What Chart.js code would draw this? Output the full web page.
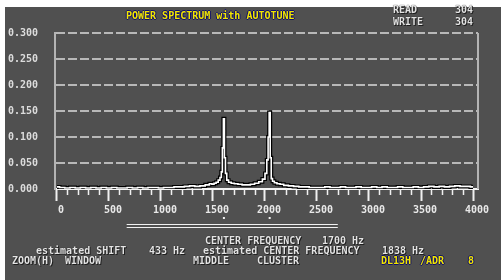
<!DOCTYPE html>
<html>
<head>
<meta charset="utf-8">
<script src="https://cdn.jsdelivr.net/npm/chart.js@4"></script>
<style>
  html, body { margin:0; padding:0; background:#ffffff; }
  body { width:501px; height:280px; position:relative; overflow:hidden; }
  #wrap { position:absolute; left:5px; top:7px; width:496px; height:273px; background:#505050; }
  canvas { position:absolute; left:0; top:0; }
  .t { position:absolute; font-family:"DejaVu Sans Mono", monospace; font-weight:bold; font-size:10px; line-height:10px; white-space:pre; color:#e4e4e4; text-shadow:0 0 1px #000, 1px 1px 0 #222; }
  .y { color:#f2e600; text-shadow:1px 0 0 #10106a, -1px 0 0 #10106a, 0 1px 0 #10106a, 0 -1px 0 #10106a; }
</style>
</head>
<body>
<div id="wrap"><canvas id="c" width="496" height="273"></canvas></div>
<div class="t y" style="left:126px;top:11px">POWER SPECTRUM with AUTOTUNE</div>
<div class="t" style="left:393px;top:5px">READ</div>
<div class="t" style="left:455px;top:5px">304</div>
<div class="t" style="left:393px;top:17px">WRITE</div>
<div class="t" style="left:455px;top:17px">304</div>
<div class="t" style="left:205px;top:236px">CENTER FREQUENCY</div>
<div class="t" style="left:322px;top:236px">1700 Hz</div>
<div class="t" style="left:36px;top:246px">estimated SHIFT</div>
<div class="t" style="left:149px;top:246px">433 Hz</div>
<div class="t" style="left:203px;top:246px">estimated CENTER FREQUENCY</div>
<div class="t" style="left:382px;top:246px">1838 Hz</div>
<div class="t" style="left:12px;top:256px">ZOOM(H)</div>
<div class="t" style="left:65px;top:256px">WINDOW</div>
<div class="t" style="left:193px;top:256px">MIDDLE</div>
<div class="t" style="left:257px;top:256px">CLUSTER</div>
<div class="t y" style="left:381px;top:256px">DL13H</div>
<div class="t y" style="left:420px;top:256px">/ADR</div>
<div class="t y" style="left:468px;top:256px">8</div>
<script>
// ---- data ----
const freqHz = [
  0,50,100,150,200,250,300,350,400,450,500,550,600,650,700,750,800,850,900,950,
  1000,1050,1100,1150,1200,1250,1300,1350,1400,1450,1480,1500,1520,1540,1560,1575,1585,1595,1605,1615,
  1625,1640,1660,1690,1720,1760,1800,1840,1880,1920,1960,1990,2010,2025,2035,2045,2055,2065,2080,2100,
  2130,2160,2200,2250,2300,2350,2400,2450,2500,2550,2600,2650,2700,2750,2800,2850,2900,2950,3000,3050,
  3100,3150,3200,3250,3300,3350,3400,3450,3500,3550,3600,3650,3700,3750,3800,3850,3900,3950,4000
];
const powerVal = [
  0.004,0.003,0.002,0.003,0.002,0.003,0.002,0.003,0.002,0.003,0.002,0.003,0.002,0.002,0.003,0.002,0.003,0.002,0.003,0.003,
  0.002,0.003,0.003,0.004,0.004,0.005,0.006,0.005,0.006,0.008,0.010,0.009,0.011,0.013,0.017,0.022,0.033,0.079,0.135,0.060,
  0.030,0.017,0.013,0.011,0.010,0.009,0.008,0.008,0.009,0.011,0.014,0.019,0.030,0.056,0.100,0.147,0.060,0.020,0.015,0.012,
  0.010,0.009,0.007,0.006,0.005,0.004,0.004,0.003,0.003,0.003,0.004,0.003,0.003,0.004,0.003,0.003,0.004,0.003,0.003,0.004,
  0.003,0.004,0.003,0.003,0.004,0.003,0.003,0.004,0.003,0.004,0.005,0.004,0.005,0.004,0.005,0.006,0.005,0.005,0.004
];
const yTicks = [0, 0.05, 0.10, 0.15, 0.20, 0.25, 0.30];
const xMajorTicks = [0,500,1000,1500,2000,2500,3000,3500,4000];
const peakMarkersHz = [1605, 2045];
const windowRangeHz = [670, 2700];

const points = freqHz.map((f, i) => ({ x: f, y: powerVal[i] }));

const overlay = {
  id: 'overlay',
  afterDatasetsDraw(chart) {
    const { ctx, scales: { x, y }, chartArea } = chart;
    ctx.save();
    // right frame
    ctx.strokeStyle = '#b4b4b4'; ctx.lineWidth = 2;
    ctx.beginPath(); ctx.moveTo(chartArea.right, chartArea.top); ctx.lineTo(chartArea.right, chartArea.bottom); ctx.stroke();
    // minor ticks
    const y0 = y.getPixelForValue(0);
    ctx.strokeStyle = '#f0f0f0'; ctx.lineWidth = 1.5;
    for (let f = 100; f < 4000; f += 100) {
      if (f % 500 === 0) continue;
      const px = Math.round(x.getPixelForValue(f)) + 0.5;
      ctx.beginPath(); ctx.moveTo(px, y0); ctx.lineTo(px, y0 + 6); ctx.stroke();
    }
    // window bar (double line)
    const xa = x.getPixelForValue(windowRangeHz[0]), xb = x.getPixelForValue(windowRangeHz[1]);
    ctx.strokeStyle = '#f0f0f0'; ctx.lineWidth = 1;
    [y0 + 35.5, y0 + 38.5].forEach(yy => { ctx.beginPath(); ctx.moveTo(xa, yy); ctx.lineTo(xb, yy); ctx.stroke(); });
    // peak markers
    ctx.fillStyle = '#f0f0f0';
    peakMarkersHz.forEach(f => { const px = x.getPixelForValue(f); ctx.fillRect(px - 1, y0 + 28, 2, 2); });
    ctx.restore();
  }
};

new Chart(document.getElementById('c'), {
  type: 'line',
  data: {
    datasets: [
      { data: points, borderColor: '#ffffff', borderWidth: 1.6, pointRadius: 0, stepped: 'middle', fill: false, order: 0 },
      { data: points, borderColor: '#000000', borderWidth: 4, pointRadius: 0, stepped: 'middle', fill: false, order: 1 }
    ]
  },
  options: {
    responsive: false,
    animation: false,
    devicePixelRatio: 1,
    layout: { padding: { top: 26, right: 23, left: 3, bottom: 0 } },
    plugins: { legend: { display: false }, tooltip: { enabled: false } },
    scales: {
      x: {
        type: 'linear', min: -19, max: 4048,
        afterBuildTicks: s => { s.ticks = xMajorTicks.map(v => ({ value: v })); },
        afterFit: s => { s.height = 91; },
        grid: { drawOnChartArea: false, drawTicks: true, tickLength: 12, tickColor: '#f0f0f0', tickWidth: 2 },
        border: { display: true, color: '#f4f4f4', width: 2 },
        ticks: { color: '#e8e8e8', padding: 3, labelOffset: 4, maxRotation: 0, autoSkip: false,
          font: { family: 'DejaVu Sans Mono', size: 10, weight: 'bold' },
          callback: v => String(v) }
      },
      y: {
        min: 0, max: 0.3,
        afterBuildTicks: s => { s.ticks = yTicks.map(v => ({ value: v })); },
        afterFit: s => { s.width = 47; },
        grid: { drawTicks: false, lineWidth: 2,
          color: c => (c.tick && c.tick.value === 0) ? 'rgba(0,0,0,0)' : '#b8b8b8' },
        border: { display: true, color: '#b4b4b4', width: 2, dash: [9, 3] },
        ticks: { color: '#dcdcdc', crossAlign: 'far', padding: 0,
          font: { family: 'DejaVu Sans Mono', size: 10, weight: 'bold' },
          callback: v => Number(v).toFixed(3) }
      }
    }
  },
  plugins: [overlay]
});
</script>
</body>
</html>
